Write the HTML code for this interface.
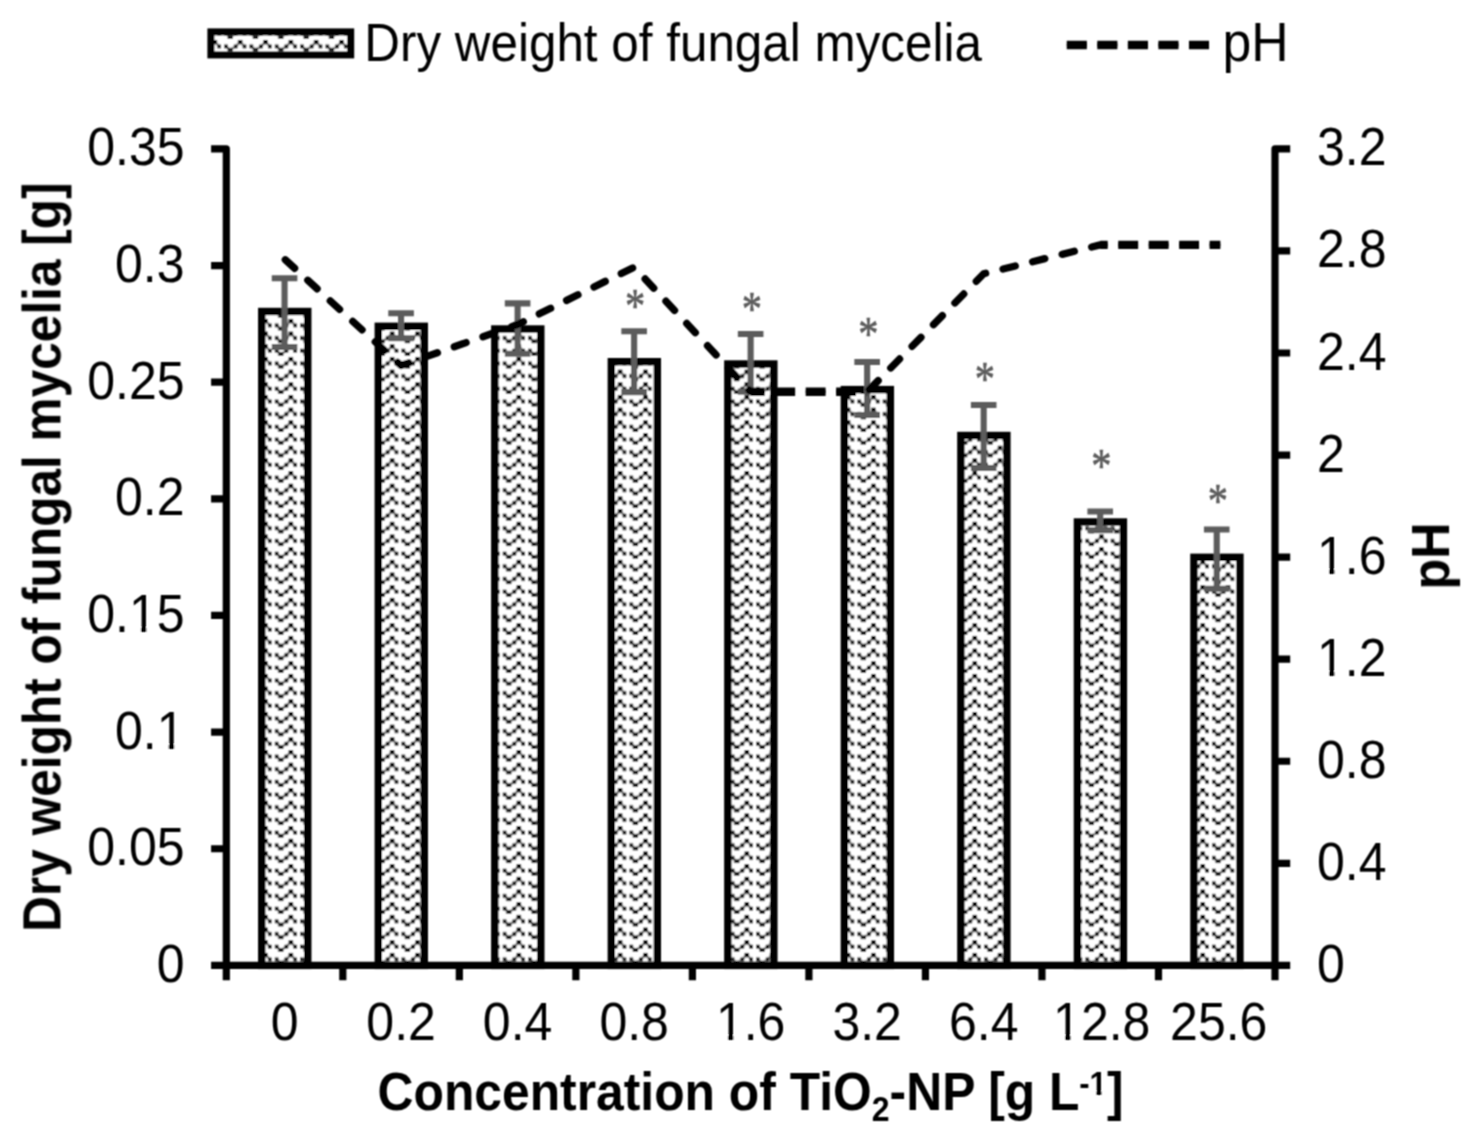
<!DOCTYPE html>
<html lang="en"><head><meta charset="utf-8"><title>Dry weight of fungal mycelia and pH vs TiO2-NP concentration</title>
<style>html,body{margin:0;padding:0;background:#fff}body{width:1479px;height:1148px;overflow:hidden}svg{display:block}text{font-family:"Liberation Sans",Arial,Helvetica,sans-serif;fill:#000}.b{font-weight:bold}.ast{font-family:"Liberation Serif","Times New Roman",serif;fill:#5b5b5b}</style></head><body>
<svg width="1479" height="1148" viewBox="0 0 1479 1148">
<defs>
<filter id="soft" x="-2%" y="-2%" width="104%" height="104%"><feConvolveMatrix order="3" kernelMatrix="1 2 1 2 4 2 1 2 1" divisor="16" edgeMode="duplicate" preserveAlpha="false"/></filter>
<pattern id="zz" patternUnits="userSpaceOnUse" x="288.35" y="508.1" width="25.33" height="12.68">
<rect x="-1" y="-1" width="27.33" height="14.68" fill="#fff"/>
<g transform="translate(-25.33 -12.68)"><polyline points="13.6,7.4 17.8,10.85 23.3,7.5 27.83,3 32.18,7.5" fill="none" stroke="#000" stroke-opacity="0.38" stroke-width="2.8" stroke-linejoin="round"/><rect x="0.4" y="1" width="4.2" height="4" fill="#000" fill-opacity="1"/><rect x="4.95" y="5.6" width="3.8" height="3.8" fill="#000" fill-opacity="0.85"/><rect x="11.7" y="5.5" width="3.8" height="3.8" fill="#000" fill-opacity="0.85"/><rect x="15.2" y="9.05" width="5.2" height="3.6" fill="#000" fill-opacity="0.85"/><rect x="21.4" y="5.6" width="3.8" height="3.8" fill="#000" fill-opacity="0.85"/></g>
<g transform="translate(-25.33 0)"><polyline points="13.6,7.4 17.8,10.85 23.3,7.5 27.83,3 32.18,7.5" fill="none" stroke="#000" stroke-opacity="0.38" stroke-width="2.8" stroke-linejoin="round"/><rect x="0.4" y="1" width="4.2" height="4" fill="#000" fill-opacity="1"/><rect x="4.95" y="5.6" width="3.8" height="3.8" fill="#000" fill-opacity="0.85"/><rect x="11.7" y="5.5" width="3.8" height="3.8" fill="#000" fill-opacity="0.85"/><rect x="15.2" y="9.05" width="5.2" height="3.6" fill="#000" fill-opacity="0.85"/><rect x="21.4" y="5.6" width="3.8" height="3.8" fill="#000" fill-opacity="0.85"/></g>
<g transform="translate(-25.33 12.68)"><polyline points="13.6,7.4 17.8,10.85 23.3,7.5 27.83,3 32.18,7.5" fill="none" stroke="#000" stroke-opacity="0.38" stroke-width="2.8" stroke-linejoin="round"/><rect x="0.4" y="1" width="4.2" height="4" fill="#000" fill-opacity="1"/><rect x="4.95" y="5.6" width="3.8" height="3.8" fill="#000" fill-opacity="0.85"/><rect x="11.7" y="5.5" width="3.8" height="3.8" fill="#000" fill-opacity="0.85"/><rect x="15.2" y="9.05" width="5.2" height="3.6" fill="#000" fill-opacity="0.85"/><rect x="21.4" y="5.6" width="3.8" height="3.8" fill="#000" fill-opacity="0.85"/></g>
<g transform="translate(0 -12.68)"><polyline points="13.6,7.4 17.8,10.85 23.3,7.5 27.83,3 32.18,7.5" fill="none" stroke="#000" stroke-opacity="0.38" stroke-width="2.8" stroke-linejoin="round"/><rect x="0.4" y="1" width="4.2" height="4" fill="#000" fill-opacity="1"/><rect x="4.95" y="5.6" width="3.8" height="3.8" fill="#000" fill-opacity="0.85"/><rect x="11.7" y="5.5" width="3.8" height="3.8" fill="#000" fill-opacity="0.85"/><rect x="15.2" y="9.05" width="5.2" height="3.6" fill="#000" fill-opacity="0.85"/><rect x="21.4" y="5.6" width="3.8" height="3.8" fill="#000" fill-opacity="0.85"/></g>
<g transform="translate(0 0)"><polyline points="13.6,7.4 17.8,10.85 23.3,7.5 27.83,3 32.18,7.5" fill="none" stroke="#000" stroke-opacity="0.38" stroke-width="2.8" stroke-linejoin="round"/><rect x="0.4" y="1" width="4.2" height="4" fill="#000" fill-opacity="1"/><rect x="4.95" y="5.6" width="3.8" height="3.8" fill="#000" fill-opacity="0.85"/><rect x="11.7" y="5.5" width="3.8" height="3.8" fill="#000" fill-opacity="0.85"/><rect x="15.2" y="9.05" width="5.2" height="3.6" fill="#000" fill-opacity="0.85"/><rect x="21.4" y="5.6" width="3.8" height="3.8" fill="#000" fill-opacity="0.85"/></g>
<g transform="translate(0 12.68)"><polyline points="13.6,7.4 17.8,10.85 23.3,7.5 27.83,3 32.18,7.5" fill="none" stroke="#000" stroke-opacity="0.38" stroke-width="2.8" stroke-linejoin="round"/><rect x="0.4" y="1" width="4.2" height="4" fill="#000" fill-opacity="1"/><rect x="4.95" y="5.6" width="3.8" height="3.8" fill="#000" fill-opacity="0.85"/><rect x="11.7" y="5.5" width="3.8" height="3.8" fill="#000" fill-opacity="0.85"/><rect x="15.2" y="9.05" width="5.2" height="3.6" fill="#000" fill-opacity="0.85"/><rect x="21.4" y="5.6" width="3.8" height="3.8" fill="#000" fill-opacity="0.85"/></g>
<g transform="translate(25.33 -12.68)"><polyline points="13.6,7.4 17.8,10.85 23.3,7.5 27.83,3 32.18,7.5" fill="none" stroke="#000" stroke-opacity="0.38" stroke-width="2.8" stroke-linejoin="round"/><rect x="0.4" y="1" width="4.2" height="4" fill="#000" fill-opacity="1"/><rect x="4.95" y="5.6" width="3.8" height="3.8" fill="#000" fill-opacity="0.85"/><rect x="11.7" y="5.5" width="3.8" height="3.8" fill="#000" fill-opacity="0.85"/><rect x="15.2" y="9.05" width="5.2" height="3.6" fill="#000" fill-opacity="0.85"/><rect x="21.4" y="5.6" width="3.8" height="3.8" fill="#000" fill-opacity="0.85"/></g>
<g transform="translate(25.33 0)"><polyline points="13.6,7.4 17.8,10.85 23.3,7.5 27.83,3 32.18,7.5" fill="none" stroke="#000" stroke-opacity="0.38" stroke-width="2.8" stroke-linejoin="round"/><rect x="0.4" y="1" width="4.2" height="4" fill="#000" fill-opacity="1"/><rect x="4.95" y="5.6" width="3.8" height="3.8" fill="#000" fill-opacity="0.85"/><rect x="11.7" y="5.5" width="3.8" height="3.8" fill="#000" fill-opacity="0.85"/><rect x="15.2" y="9.05" width="5.2" height="3.6" fill="#000" fill-opacity="0.85"/><rect x="21.4" y="5.6" width="3.8" height="3.8" fill="#000" fill-opacity="0.85"/></g>
<g transform="translate(25.33 12.68)"><polyline points="13.6,7.4 17.8,10.85 23.3,7.5 27.83,3 32.18,7.5" fill="none" stroke="#000" stroke-opacity="0.38" stroke-width="2.8" stroke-linejoin="round"/><rect x="0.4" y="1" width="4.2" height="4" fill="#000" fill-opacity="1"/><rect x="4.95" y="5.6" width="3.8" height="3.8" fill="#000" fill-opacity="0.85"/><rect x="11.7" y="5.5" width="3.8" height="3.8" fill="#000" fill-opacity="0.85"/><rect x="15.2" y="9.05" width="5.2" height="3.6" fill="#000" fill-opacity="0.85"/><rect x="21.4" y="5.6" width="3.8" height="3.8" fill="#000" fill-opacity="0.85"/></g>
</pattern>
</defs>
<rect width="1479" height="1148" fill="#fff"/>
<g filter="url(#soft)">
<g fill="url(#zz)" stroke="#000" stroke-width="7.4">
<rect x="261.76" y="311.5" width="46" height="653.9"/>
<rect x="378.28" y="326.3" width="46" height="639.1"/>
<rect x="494.81" y="329" width="46" height="636.4"/>
<rect x="611.33" y="361.7" width="46" height="603.7"/>
<rect x="727.85" y="364" width="46" height="601.4"/>
<rect x="844.37" y="389.6" width="46" height="575.8"/>
<rect x="960.89" y="435.5" width="46" height="529.9"/>
<rect x="1077.42" y="522" width="46" height="443.4"/>
<rect x="1193.94" y="557.3" width="46" height="408.1"/>
</g>
<g stroke="#000" stroke-width="7.2" fill="none" stroke-linejoin="round">
<path d="M211.1 148.9 H226.3 V980.3 M1290.2 148.9 H1275 V980.3 M211.1 965.4 H1290.2"/>
<path d="M211.1 265.54 H226.3 M211.1 382.19 H226.3 M211.1 498.83 H226.3 M211.1 615.47 H226.3 M211.1 732.11 H226.3 M211.1 848.76 H226.3 M1275 250.96 H1290.2 M1275 353.02 H1290.2 M1275 455.09 H1290.2 M1275 557.15 H1290.2 M1275 659.21 H1290.2 M1275 761.27 H1290.2 M1275 863.34 H1290.2 M342.82 965.4 V980.3 M459.34 965.4 V980.3 M575.87 965.4 V980.3 M692.39 965.4 V980.3 M808.91 965.4 V980.3 M925.43 965.4 V980.3 M1041.96 965.4 V980.3 M1158.48 965.4 V980.3"/>
</g>
<g stroke="#5b5b5b" stroke-width="6.1" fill="none">
<path d="M284.56 278.3 V347 M271.76 278.3 H297.36 M271.76 347 H297.36"/>
<path d="M401.08 313.3 V338.3 M388.28 313.3 H413.88 M388.28 338.3 H413.88"/>
<path d="M517.61 303.4 V353.7 M504.81 303.4 H530.41 M504.81 353.7 H530.41"/>
<path d="M634.13 331.3 V392.1 M621.33 331.3 H646.93 M621.33 392.1 H646.93"/>
<path d="M750.65 334 V391.6 M737.85 334 H763.45 M737.85 391.6 H763.45"/>
<path d="M867.17 362 V415 M854.37 362 H879.97 M854.37 415 H879.97"/>
<path d="M983.69 405 V468 M970.89 405 H996.49 M970.89 468 H996.49"/>
<path d="M1100.22 511.5 V530.2 M1087.42 511.5 H1113.02 M1087.42 530.2 H1113.02"/>
<path d="M1216.74 529.5 V588.8 M1203.94 529.5 H1229.54 M1203.94 588.8 H1229.54"/>
</g>
<polyline points="284.56,259.1 401.08,365.5 517.61,324.5 634.13,267.2 750.65,391.8 867.17,391.8 983.69,273.8 1100.22,244.9 1216.74,244.9" fill="none" stroke="#000" stroke-width="7.3" stroke-linecap="round" stroke-linejoin="round" stroke-dasharray="12.6 17.85" stroke-dashoffset="-1"/>
<path d="M750.65 391.8 H867.17" fill="none" stroke="#000" stroke-width="8.4" stroke-dasharray="19.9 10.55" stroke-dashoffset="5.86"/>
<path d="M1100.22 244.9 H1220.39" fill="none" stroke="#000" stroke-width="8.4" stroke-dasharray="19.9 10.55" stroke-dashoffset="12.42"/>
<text class="ast" transform="translate(635.23 321.7) scale(1 1.2)" font-size="40.5" text-anchor="middle" stroke="#5b5b5b" stroke-width="0.55">*</text>
<text class="ast" transform="translate(751.75 324.5) scale(1 1.2)" font-size="40.5" text-anchor="middle" stroke="#5b5b5b" stroke-width="0.55">*</text>
<text class="ast" transform="translate(868.27 349.8) scale(1 1.2)" font-size="40.5" text-anchor="middle" stroke="#5b5b5b" stroke-width="0.55">*</text>
<text class="ast" transform="translate(984.79 395.4) scale(1 1.2)" font-size="40.5" text-anchor="middle" stroke="#5b5b5b" stroke-width="0.55">*</text>
<text class="ast" transform="translate(1101.32 482) scale(1 1.2)" font-size="40.5" text-anchor="middle" stroke="#5b5b5b" stroke-width="0.55">*</text>
<text class="ast" transform="translate(1217.84 517.3) scale(1 1.2)" font-size="40.5" text-anchor="middle" stroke="#5b5b5b" stroke-width="0.55">*</text>
<rect x="210.9" y="31.9" width="139.8" height="23" fill="url(#zz)" stroke="#000" stroke-width="7"/>
<path d="M1070.4 45 H1205.6" fill="none" stroke="#000" stroke-width="7.3" stroke-linecap="round" stroke-dasharray="12.8 17.75"/>
<path d="M1066.75 45 H1209.25" fill="none" stroke="#000" stroke-width="8.4" stroke-dasharray="20.1 10.45"/>
<text transform="translate(364.3 61.3) scale(1 1.09)" font-size="49.4" text-anchor="start">Dry weight of fungal mycelia</text>
<text transform="translate(1222.4 61.4) scale(1 1.07)" font-size="51.7" text-anchor="start">pH</text>
<text transform="translate(184.5 165.4) scale(1 1.06)" font-size="50" text-anchor="end">0.35</text>
<text transform="translate(184.5 282.04) scale(1 1.06)" font-size="50" text-anchor="end">0.3</text>
<text transform="translate(184.5 398.69) scale(1 1.06)" font-size="50" text-anchor="end">0.25</text>
<text transform="translate(184.5 515.33) scale(1 1.06)" font-size="50" text-anchor="end">0.2</text>
<g transform="translate(184.5 631.97) scale(1 1.06)"><text font-size="50" text-anchor="end">0.15</text><rect x="-53.01" y="-4.09" width="9.41" height="5.09" fill="#fff"/><rect x="-38.13" y="-4.09" width="9.57" height="5.09" fill="#fff"/></g>
<g transform="translate(184.5 748.61) scale(1 1.06)"><text font-size="50" text-anchor="end">0.1</text><rect x="-25.22" y="-4.09" width="9.41" height="5.09" fill="#fff"/><rect x="-10.33" y="-4.09" width="9.57" height="5.09" fill="#fff"/></g>
<text transform="translate(184.5 865.26) scale(1 1.06)" font-size="50" text-anchor="end">0.05</text>
<text transform="translate(184.5 981.9) scale(1 1.06)" font-size="50" text-anchor="end">0</text>
<text transform="translate(1317 165.4) scale(1 1.06)" font-size="50" text-anchor="start">3.2</text>
<text transform="translate(1317 267.46) scale(1 1.06)" font-size="50" text-anchor="start">2.8</text>
<text transform="translate(1317 369.52) scale(1 1.06)" font-size="50" text-anchor="start">2.4</text>
<text transform="translate(1317 471.59) scale(1 1.06)" font-size="50" text-anchor="start">2</text>
<g transform="translate(1317 573.65) scale(1 1.06)"><text font-size="50" text-anchor="start">1.6</text><rect x="2.61" y="-4.09" width="9.41" height="5.09" fill="#fff"/><rect x="17.49" y="-4.09" width="9.57" height="5.09" fill="#fff"/></g>
<g transform="translate(1317 675.71) scale(1 1.06)"><text font-size="50" text-anchor="start">1.2</text><rect x="2.61" y="-4.09" width="9.41" height="5.09" fill="#fff"/><rect x="17.49" y="-4.09" width="9.57" height="5.09" fill="#fff"/></g>
<text transform="translate(1317 777.77) scale(1 1.06)" font-size="50" text-anchor="start">0.8</text>
<text transform="translate(1317 879.84) scale(1 1.06)" font-size="50" text-anchor="start">0.4</text>
<text transform="translate(1317 981.9) scale(1 1.06)" font-size="50" text-anchor="start">0</text>
<text transform="translate(284.56 1039.5) scale(1 1.06)" font-size="50" text-anchor="middle">0</text>
<text transform="translate(401.08 1039.5) scale(1 1.06)" font-size="50" text-anchor="middle">0.2</text>
<text transform="translate(517.61 1039.5) scale(1 1.06)" font-size="50" text-anchor="middle">0.4</text>
<text transform="translate(634.13 1039.5) scale(1 1.06)" font-size="50" text-anchor="middle">0.8</text>
<g transform="translate(750.65 1039.5) scale(1 1.06)"><text font-size="50" text-anchor="middle">1.6</text><rect x="-32.15" y="-4.09" width="9.41" height="5.09" fill="#fff"/><rect x="-17.26" y="-4.09" width="9.57" height="5.09" fill="#fff"/></g>
<text transform="translate(867.17 1039.5) scale(1 1.06)" font-size="50" text-anchor="middle">3.2</text>
<text transform="translate(983.69 1039.5) scale(1 1.06)" font-size="50" text-anchor="middle">6.4</text>
<g transform="translate(1101.72 1039.5) scale(1 1.06)"><text font-size="50" text-anchor="middle">12.8</text><rect x="-46.04" y="-4.09" width="9.41" height="5.09" fill="#fff"/><rect x="-31.16" y="-4.09" width="9.57" height="5.09" fill="#fff"/></g>
<text transform="translate(1218.74 1039.5) scale(1 1.06)" font-size="50" text-anchor="middle">25.6</text>
<text class="b" transform="translate(60.2 931.8) rotate(-90) scale(1 1.08)" font-size="49.6">Dry weight of fungal mycelia [g]</text>
<text class="b" transform="translate(1448.9 589.6) rotate(-90) scale(1 1.08)" font-size="50.5">pH</text>
<g transform="translate(377.5 1110.2) scale(1 1.08)"><text class="b" font-size="49.8">Concentration of TiO<tspan font-size="32" dy="9.6">2</tspan><tspan dy="-9.6">-NP [g L</tspan><tspan font-size="31" dy="-13.7" dx="-0.3">-1</tspan><tspan dy="13.7" dx="0.3">]</tspan></text><rect x="712.82" y="-17.76" width="5.93" height="5.06" fill="#fff"/><rect x="724.05" y="-17.76" width="6.09" height="5.06" fill="#fff"/></g>
</g></svg></body></html>
